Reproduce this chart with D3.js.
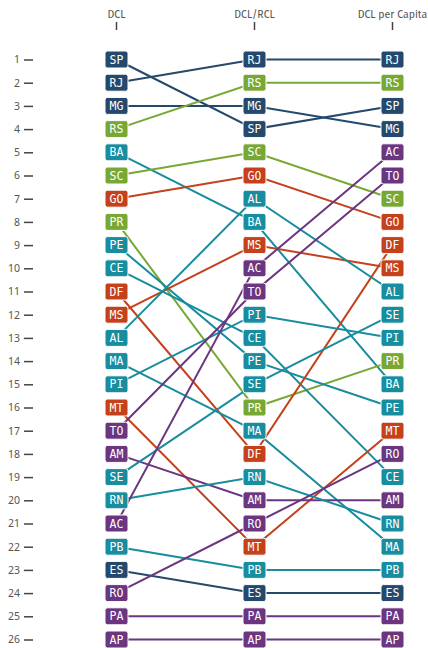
<!DOCTYPE html>
<html>
<head>
<meta charset="utf-8">
<script src="https://cdn.jsdelivr.net/npm/d3@7"></script>
<style>
html,body{margin:0;padding:0;background:#fff;}
svg{display:block;}
</style>
</head>
<body>
<svg id="chart" width="428" height="648"></svg>
<script>
const columns = ["DCL", "DCL/RCL", "DCL per Capita"];
const rankDCL = ["SP","RJ","MG","RS","BA","SC","GO","PR","PE","CE","DF","MS","AL","MA","PI","MT","TO","AM","SE","RN","AC","PB","ES","RO","PA","AP"];
const rankDCLRCL = ["RJ","RS","MG","SP","SC","GO","AL","BA","MS","AC","TO","PI","CE","PE","SE","PR","MA","DF","RN","AM","RO","MT","PB","ES","PA","AP"];
const rankPerCapita = ["RJ","RS","SP","MG","AC","TO","SC","GO","DF","MS","AL","SE","PI","PR","BA","PE","MT","RO","CE","AM","RN","MA","PB","ES","PA","AP"];
const regionSoutheast = ["SP","RJ","MG","ES"];
const regionSouth = ["RS","SC","PR"];
const regionNortheast = ["BA","PE","CE","AL","MA","PI","SE","RN","PB"];
const regionCenterWest = ["GO","DF","MS","MT"];
const regionNorth = ["TO","AM","AC","RO","PA","AP"];
const rankTicks = d3.range(1, 27);

const regionColor = {};
regionSoutheast.forEach(s => regionColor[s] = "#24496c");
regionSouth.forEach(s => regionColor[s] = "#78a834");
regionNortheast.forEach(s => regionColor[s] = "#178d9f");
regionCenterWest.forEach(s => regionColor[s] = "#c4411c");
regionNorth.forEach(s => regionColor[s] = "#6b3580");

const rankings = [rankDCL, rankDCLRCL, rankPerCapita];
const states = rankDCL.slice();

const svg = d3.select("#chart");
const x = d3.scalePoint().domain(columns).range([116.5, 392.5]);
const y = d3.scaleLinear().domain([1, 26]).range([59.5, 639.5]);

// header
const header = svg.append("g");
columns.forEach(c => {
  header.append("text")
    .attr("x", x(c)).attr("y", 18)
    .attr("text-anchor", "middle")
    .attr("font-family", "'Fira Sans','Noto Sans',sans-serif")
    .attr("font-size", 10.5)
    .attr("fill", "#555")
    .text(c);
  header.append("line")
    .attr("x1", x(c)).attr("x2", x(c))
    .attr("y1", 22).attr("y2", 30)
    .attr("stroke", "#444").attr("stroke-width", 1.5);
});

// left axis
const axis = d3.axisLeft(y).tickValues(rankTicks).tickFormat(d3.format("d")).tickSize(9).tickPadding(4);
const ag = svg.append("g").attr("transform", "translate(33,0)").call(axis);
ag.select(".domain").remove();
ag.selectAll(".tick line").attr("stroke", "#444").attr("stroke-width", 1.5);
ag.selectAll(".tick text").attr("fill", "#555").attr("font-size", 10.5)
  .attr("font-family", "'Noto Sans',sans-serif");

// data per state
const data = states.map(s => ({
  state: s,
  points: rankings.map((r, i) => ({col: columns[i], rank: r.indexOf(s) + 1}))
}));

const line = d3.line().x(d => x(d.col)).y(d => y(d.rank));

svg.append("g").selectAll("path").data(data).join("path")
  .attr("d", d => line(d.points))
  .attr("fill", "none")
  .attr("stroke", d => regionColor[d.state])
  .attr("stroke-width", 2);

const bw = 23, bh = 17;
const nodes = svg.append("g").selectAll("g").data(data.flatMap(d => d.points.map(p => ({state: d.state, col: p.col, rank: p.rank}))))
  .join("g")
  .attr("transform", d => `translate(${x(d.col)},${y(d.rank)})`);
nodes.append("rect")
  .attr("x", -bw/2).attr("y", -bh/2)
  .attr("width", bw).attr("height", bh)
  .attr("rx", 2.5)
  .attr("fill", d => regionColor[d.state])
  .attr("stroke", "#fff").attr("stroke-width", 1);
nodes.append("text")
  .attr("text-anchor", "middle")
  .attr("dy", "0.36em")
  .attr("fill", "#fff")
  .attr("font-family", "'DejaVu Sans Mono',monospace")
  .attr("font-size", 11.5)
  .text(d => d.state);
</script>
</body>
</html>
